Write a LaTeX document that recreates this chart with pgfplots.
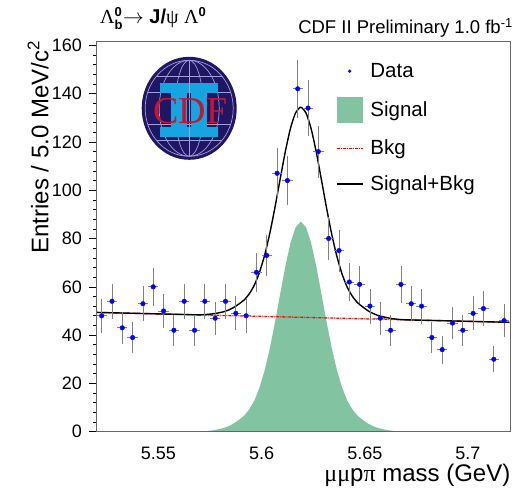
\documentclass[border=0pt]{standalone}
\usepackage{fontspec}
\setmainfont{Liberation Sans}
\newfontfamily\grk{Liberation Serif}
\usepackage{pgfplots}
\usepackage{pgfplotstable}
\pgfplotsset{compat=1.18}
\definecolor{sigfill}{RGB}{130,195,161}
\definecolor{logonavy}{RGB}{32,22,100}
\definecolor{logogrid}{RGB}{160,160,215}
\definecolor{logoblue}{RGB}{22,165,225}
\definecolor{logored}{RGB}{200,20,45}

\pgfplotstableread{
x y e
5.5225 48 6.93
5.5275 54 7.35
5.5325 43 6.56
5.5375 39 6.24
5.5425 53 7.28
5.5475 60 7.75
5.5525 50 7.07
5.5575 42 6.48
5.5625 54 7.35
5.5675 42 6.48
5.5725 54 7.35
5.5775 47 6.86
5.5825 54 7.35
5.5875 49 7.00
5.5925 48 6.93
5.5975 66 8.12
5.6025 73 8.54
5.6075 107 10.34
5.6125 104 10.20
5.6175 142 11.92
5.6225 134 11.58
5.6275 116 10.77
5.6325 80 8.94
5.6375 75 8.66
5.6425 62 7.87
5.6475 61 7.81
5.6525 52 7.21
5.6575 47 6.86
5.6625 42 6.48
5.6675 61 7.81
5.6725 53 7.28
5.6775 52 7.21
5.6825 39 6.24
5.6875 34 5.83
5.6925 45 6.71
5.6975 42 6.48
5.7025 49 7.00
5.7075 51 7.14
5.7125 30 5.48
5.7175 46 6.78
}\datatable

\pgfplotstableread{
x s
5.569 0
5.5715 0.1
5.574 0.3
5.5765 0.6
5.579 1.0
5.5815 1.5
5.584 2.3
5.5865 3.4
5.589 4.9
5.5915 6.6
5.594 9.2
5.5965 12.9
5.599 18.3
5.6015 25.5
5.604 34.6
5.6065 45.4
5.609 57.1
5.6115 68.5
5.614 78.2
5.6165 84.7
5.619 87.0
5.6215 84.7
5.624 78.2
5.6265 68.5
5.629 57.1
5.6315 45.4
5.634 34.6
5.6365 25.5
5.639 18.3
5.6415 12.9
5.644 9.2
5.6465 6.6
5.649 4.9
5.6515 3.4
5.654 2.3
5.6565 1.5
5.659 1.0
5.6615 0.6
5.664 0.3
5.6665 0.1
5.669 0
}\sigtable

\pgfplotstableread{
x t
5.52 49.40
5.53 49.20
5.54 48.99
5.55 48.79
5.56 48.58
5.569 48.40
5.5715 48.44
5.574 48.59
5.5765 48.84
5.579 49.19
5.5815 49.64
5.584 50.39
5.5865 51.44
5.589 52.89
5.5915 54.53
5.594 57.08
5.5965 60.73
5.599 66.08
5.6015 73.23
5.604 82.28
5.6065 93.03
5.609 104.68
5.6115 116.02
5.614 125.67
5.6165 132.12
5.619 134.37
5.6215 132.02
5.624 125.47
5.6265 115.72
5.629 104.26
5.6315 92.51
5.634 81.66
5.6365 72.51
5.639 65.26
5.6415 59.81
5.644 56.06
5.6465 53.41
5.649 51.66
5.6515 50.10
5.654 48.95
5.6565 48.10
5.659 47.55
5.6615 47.10
5.664 46.75
5.6665 46.50
5.669 46.35
5.68 46.12
5.69 45.92
5.70 45.71
5.71 45.50
5.72 45.30
}\tottable

\begin{document}
\begin{tikzpicture}
\begin{axis}[
  width=414pt, height=390pt, scale only axis,
  xmin=5.52, xmax=5.7206, ymin=0, ymax=161.5,
  axis on top,
  axis line style={draw=black!60, line width=0.9pt},
  xtick={5.55,5.6,5.65,5.7}, xticklabels={5.55,5.6,5.65,5.7},
  xtick style={draw=none},
  ytick={0,20,...,160}, minor y tick num=4,
  ytick pos=left, xtick pos=bottom,
  tick align=outside,
  major tick length=7pt, minor tick length=3.5pt,
  ytick style={black, line width=0.6pt},
  tick label style={font=\fontsize{18}{20}\selectfont},
  /pgf/number format/assume math mode=true,
  xticklabel style={yshift=-5pt},
  yticklabel style={xshift=-4pt},
  xlabel={{\grk μμ}p{\grk π} mass (GeV)},
  ylabel={Entries / 5.0 MeV/c\textsuperscript{2}},
  xlabel style={at={(axis description cs:1,0)}, anchor=base east, yshift=-50pt, font=\fontsize{24}{28}\selectfont, inner sep=0pt},
  ylabel style={at={([xshift=-48.2pt,yshift=1pt]axis description cs:0,1)}, anchor=base east, font=\fontsize{24}{28}\selectfont, inner sep=0pt},
  legend style={draw=none, fill=none, at={(axis description cs:0.578,0.95)}, anchor=north west,
     font=\fontsize{20.5}{24}\selectfont, row sep=15.5pt, inner sep=0pt,
     /tikz/every odd column/.append style={column sep=5pt}},
  legend cell align=left,
]
\addlegendimage{legend image code/.code={\path[draw=none] (0pt,0pt) -- (26pt,0pt); \fill[blue, draw=none] (13pt,0pt) circle (1.8pt);}}
\addlegendentry{Data}
\addlegendimage{legend image code/.code={\fill[sigfill, draw=none] (0pt,-13pt) rectangle (26pt,13pt);}}
\addlegendentry{Signal}
\addlegendimage{red, line width=1.3pt, dash pattern=on 3pt off 1pt on 1pt off 1pt, legend image code/.code={\draw (0pt,0pt) -- (26pt,0pt);}}
\addlegendentry{Bkg}
\addlegendimage{black, line width=1.4pt, legend image code/.code={\draw (0pt,0pt) -- (26pt,0pt);}}
\addlegendentry{Signal+Bkg}

\addplot[fill=sigfill, draw=none, forget plot] table[x=x, y=s] {\sigtable} \closedcycle;
\addplot[red, line width=1.3pt, dash pattern=on 3pt off 1pt on 1pt off 1pt, forget plot] coordinates {(5.52,49.4) (5.72,45.3)};
\addplot[black, line width=1.4pt, smooth, tension=0.4, forget plot] table[x=x, y=t] {\tottable};
\addplot[only marks, mark=*, mark size=2.3pt, blue, forget plot,
  error bars/.cd, y dir=both, y explicit, x dir=both, x fixed=0.0025,
  error bar style={black!50, line width=0.8pt}, error mark=none]
  table[x=x, y=y, y error=e] {\datatable};
\draw[black, line width=0.9pt] (axis description cs:0,0) -- (axis description cs:0,1);
\end{axis}

% CDF logo
\begin{scope}[shift={(92.7pt,323.4pt)}]
 \fill[logonavy] (0,0) ellipse [x radius=47.5pt, y radius=51.5pt];
 \begin{scope}
  \clip (0,0) ellipse [x radius=44pt, y radius=48pt];
  \draw[logogrid, line width=0.7pt] (0,0) ellipse [x radius=14pt, y radius=48pt];
  \draw[logogrid, line width=0.7pt] (0,0) ellipse [x radius=30pt, y radius=48pt];
  \foreach \yy in {-32,-16,16,32} {\draw[logogrid, line width=0.7pt] (-50pt,\yy pt) -- (50pt,\yy pt);}
  \draw[logogrid, line width=0.7pt] (0pt,-50pt) -- (0pt,50pt);
 \end{scope}
 \draw[logogrid, line width=0.7pt] (0,0) ellipse [x radius=44pt, y radius=48pt];
 \fill[logoblue] (-29pt,15.3pt) rectangle (29pt,25.3pt);
 \fill[logoblue] (-29pt,-28.7pt) rectangle (29pt,-18.7pt);
 \fill[logoblue] (-18pt,-18.7pt) rectangle (-2pt,15.3pt);
 \fill[logoblue] (2pt,-18.7pt) rectangle (18pt,15.3pt);
 \draw[logogrid, line width=0.6pt] (0pt,-28.7pt) -- (0pt,25.3pt);
 \node[text=logored, font=\grk\fontsize{38}{38}\selectfont, inner sep=0pt] at (1pt,-2.7pt) {CDF};
\end{scope}

% titles
\node[anchor=base west, inner sep=0pt, font=\fontsize{20}{24}\selectfont] at (3.5pt,407.7pt)
  {{\grk Λ}$_{\mbox{\fontsize{13}{13}\selectfont\bfseries b}}^{\mbox{\fontsize{13}{13}\selectfont\bfseries 0}}$$\rightarrow$ \textbf{J/}{\grk ψ} {\grk Λ}$^{\mbox{\fontsize{13}{13}\selectfont\bfseries 0}}$};
\node[anchor=base east, inner sep=0pt, font=\fontsize{18.5}{22}\selectfont] at (416.5pt,397.7pt)
  {CDF II Preliminary 1.0 fb\textsuperscript{-1}};

\pgfresetboundingbox
\path[use as bounding box] (-96.5pt,-56.3pt) rectangle (419.5pt,431.7pt);
\end{tikzpicture}
\end{document}
